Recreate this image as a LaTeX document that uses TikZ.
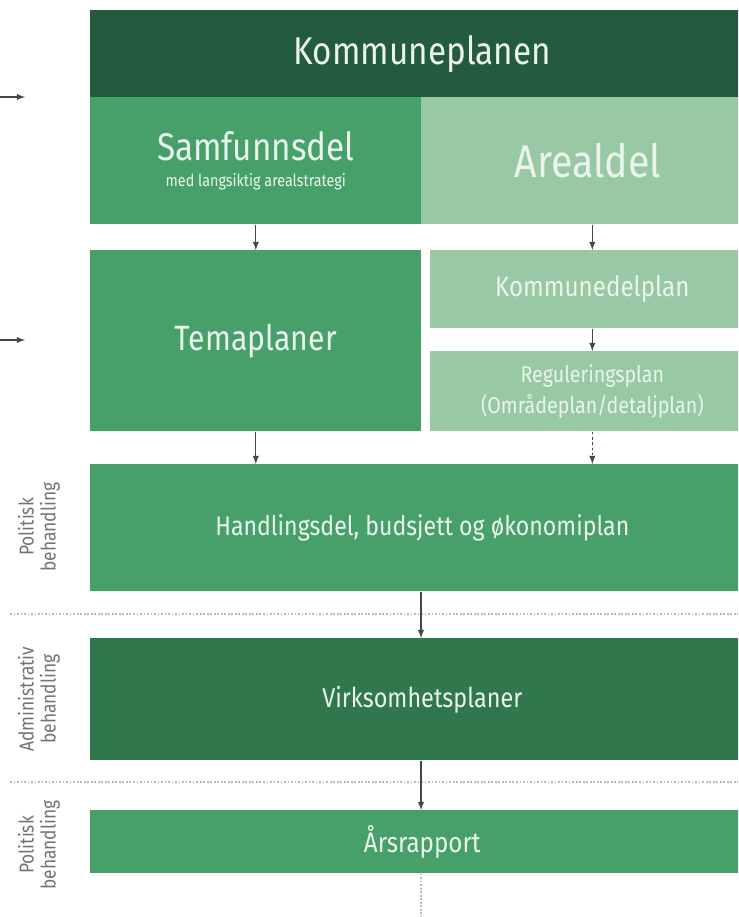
\documentclass[tikz,border=0pt]{standalone}
\usepackage{fontspec}
\setmainfont{Fira Sans}[FakeStretch=0.86]
\usetikzlibrary{arrows,calc}

\definecolor{dkgreen}{HTML}{245A3D}
\definecolor{mdgreen}{HTML}{47A06A}
\definecolor{ltgreen}{HTML}{99C8A4}
\definecolor{vkgreen}{HTML}{31774D}
\definecolor{boxtext}{HTML}{E9F5EC}
\definecolor{arrowgray}{HTML}{3E4A45}

\tikzset{
  box/.style={rectangle, inner sep=0pt, anchor=north west, align=center, text=boxtext},
  arr/.style={->, >=latex, draw=arrowgray, fill=arrowgray, line width=0.6pt},
  dotarr/.style={arr, dash pattern=on 1.5pt off 1.5pt},
  sep/.style={draw=gray!55, line width=0.6pt, dash pattern=on 1pt off 1pt},
  side/.style={rotate=90, align=center, text=black!55, font=\fontsize{11.5}{12.5}\selectfont}
}

\begin{document}
\begin{tikzpicture}[x=0.02cm, y=-0.02cm]
\useasboundingbox (0,0) rectangle (738,917);
\clip (0,0) rectangle (738,917);
% Top box
\node [box, fill=dkgreen, minimum width=13.28cm, minimum height=1.74cm, font=\fontsize{22}{26}\selectfont] (kp) at (90,10) {Kommuneplanen};
% Samfunnsdel
\node [box, fill=mdgreen, minimum width=6.62cm, minimum height=2.54cm] (samf) at (90,97) {{\fontsize{22}{24}\selectfont Samfunnsdel}\\[3pt]{\fontsize{9.5}{11}\selectfont med langsiktig arealstrategi}};
% Arealdel
\node [box, fill=ltgreen, minimum width=6.66cm, minimum height=2.54cm, font=\fontsize{26}{28}\selectfont] (areal) at (421,97) {Arealdel};
% Temaplaner
\node [box, fill=mdgreen, minimum width=6.62cm, minimum height=3.62cm, font=\fontsize{20}{22}\selectfont] (tema) at (90,250) {Temaplaner};
% Kommunedelplan
\node [box, fill=ltgreen, minimum width=6.48cm, minimum height=1.56cm, font=\fontsize{16}{18}\selectfont] (kdp) at (430,250) {Kommunedelplan};
% Reguleringsplan
\node [box, fill=ltgreen, minimum width=6.48cm, minimum height=1.6cm, font=\fontsize{13}{16}\selectfont] (reg) at (430,351) {Reguleringsplan\\[2pt](Områdeplan/detaljplan)};
% Handlingsdel
\node [box, fill=mdgreen, minimum width=13.28cm, minimum height=2.54cm, font=\fontsize{15.3}{18}\selectfont] (handl) at (90,464) {Handlingsdel, budsjett og økonomiplan};
% Virksomhetsplaner
\node [box, fill=vkgreen, minimum width=13.28cm, minimum height=2.44cm, font=\fontsize{15.5}{18}\selectfont] (virk) at (90,638) {Virksomhetsplaner};
% Aarsrapport
\node [box, fill=mdgreen, minimum width=13.28cm, minimum height=1.26cm, font=\fontsize{16}{18}\selectfont] (aars) at (90,810) {Årsrapport};
% Side labels
\node [side] (pol1) at (39,527) {Politisk\\behandling};
\node [side] (adm) at (39,699) {Administrativ\\behandling};
\node [side] (pol2) at (39,845) {Politisk\\behandling};
% Separators
\draw [sep] (10,614) -- (738,614);
\draw [sep] (10,782) -- (738,782);
% Left arrows
\coordinate (in1) at (0,97);
\coordinate (out1) at (25,97);
\coordinate (in2) at (0,340);
\coordinate (out2) at (25,340);
\draw [arr] (in1) -- (out1);
\draw [arr] (in2) -- (out2);
% Arrows between boxes
\draw [arr] (samf.south) -- (tema.north);
\draw [arr] (areal.south -| kdp.north) -- (kdp.north);
\draw [arr] (kdp.south) -- (reg.north);
\draw [arr] (tema.south) -- (tema.south |- handl.north);
\draw [dotarr] (reg.south) -- (reg.south |- handl.north);
\draw [arr] (handl.south -| 421,0) -- (virk.north -| 421,0);
\draw [arr] (virk.south -| 421,0) -- (aars.north -| 421,0);
% Dotted line below
\coordinate (end) at (421,917);
\draw [sep] (aars.south -| end) -- (end);
\end{tikzpicture}
\end{document}
